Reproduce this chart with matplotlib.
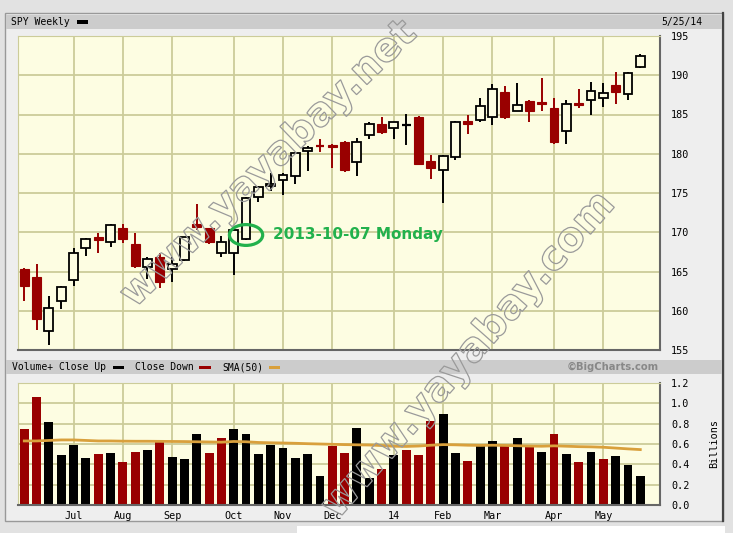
import matplotlib
matplotlib.use('Agg')
import matplotlib.pyplot as plt
from matplotlib.patches import Rectangle, Ellipse, PathPatch
from matplotlib.textpath import TextPath
from matplotlib.font_manager import FontProperties
from matplotlib.transforms import Affine2D
from matplotlib.lines import Line2D

# ---------------- data (weekly SPY, Jun 2013 - May 2014) ----------------
opens = [165.3, 164.3, 157.4, 161.2, 163.9, 168.0, 169.35, 168.7, 170.5, 168.5,
         165.6, 166.8, 165.3, 166.5, 171.1, 170.5, 167.4, 167.4, 169.1, 174.45,
         175.85, 176.6, 177.2, 180.3, 181.05, 181.1, 181.5, 178.9, 182.35, 183.8,
         183.3, 183.65, 184.7, 179.1, 177.9, 179.6, 184.2, 184.3, 184.7, 187.9,
         185.5, 186.7, 186.6, 185.8, 182.9, 186.5, 186.9, 187.1, 188.7, 187.6, 191.0]
highs = [165.5, 166.0, 161.9, 163.1, 168.0, 169.3, 169.95, 171.0, 171.0, 169.9,
         166.85, 167.3, 166.9, 169.4, 173.6, 170.6, 169.5, 170.4, 174.45, 175.9,
         177.5, 177.6, 180.1, 181.0, 181.7, 181.2, 181.6, 182.0, 184.1, 184.7,
         184.1, 185.0, 184.8, 179.8, 179.8, 184.2, 185.0, 187.1, 188.9, 188.6,
         189.0, 186.8, 189.6, 187.1, 186.8, 188.3, 189.1, 189.0, 190.4, 190.4, 192.7]
lows = [161.3, 157.5, 155.7, 160.2, 163.1, 167.0, 167.4, 168.1, 168.6, 165.5,
        164.1, 162.9, 163.7, 166.4, 170.3, 168.5, 166.8, 164.5, 169.0, 173.9,
        175.2, 174.7, 176.1, 177.85, 180.3, 178.2, 177.7, 177.2, 181.9, 182.5,
        181.9, 181.3, 178.6, 176.8, 173.7, 179.2, 182.5, 184.0, 183.7, 184.4,
        185.4, 184.0, 185.4, 181.2, 181.2, 185.8, 184.9, 185.9, 186.4, 186.9, 190.9]
closes = [163.1, 159.0, 160.4, 163.0, 167.4, 169.1, 169.05, 170.9, 169.2, 165.7,
          166.55, 163.6, 166.0, 169.35, 170.7, 168.8, 168.8, 170.25, 174.3, 175.8,
          176.2, 177.25, 180.05, 180.7, 180.95, 180.8, 177.9, 181.5, 183.75, 182.8,
          184.1, 183.75, 178.7, 178.15, 179.7, 184.0, 183.8, 186.1, 188.2, 184.65,
          186.2, 185.4, 186.3, 181.45, 186.3, 186.2, 188.0, 187.8, 187.9, 190.25, 192.5]

volumes = [0.75, 1.06, 0.82, 0.49, 0.59, 0.46, 0.50, 0.51, 0.42, 0.52,
           0.54, 0.62, 0.47, 0.45, 0.70, 0.51, 0.66, 0.75, 0.70, 0.50,
           0.59, 0.56, 0.46, 0.50, 0.29, 0.58, 0.51, 0.76, 0.27, 0.35,
           0.49, 0.54, 0.49, 0.83, 0.90, 0.51, 0.43, 0.59, 0.63, 0.58,
           0.66, 0.58, 0.52, 0.70, 0.50, 0.42, 0.52, 0.45, 0.48, 0.39, 0.29]
vol_down_weeks = [0, 1, 6, 8, 9, 11, 15, 16, 25, 26, 29, 31, 32, 33, 36, 39, 41, 43, 45, 47]

sma50 = [0.63, 0.63, 0.635, 0.64, 0.64, 0.635, 0.63, 0.63, 0.628, 0.627,
         0.627, 0.626, 0.625, 0.624, 0.622, 0.62, 0.618, 0.625, 0.622, 0.615,
         0.612, 0.61, 0.607, 0.603, 0.60, 0.597, 0.594, 0.592, 0.59, 0.585,
         0.578, 0.576, 0.58, 0.588, 0.594, 0.592, 0.588, 0.586, 0.588, 0.586,
         0.583, 0.58, 0.578, 0.582, 0.578, 0.574, 0.572, 0.568, 0.56, 0.552, 0.545]

month_weeks = [4, 8, 12, 17, 21, 25, 30, 34, 38, 43, 47]
month_labels = ['Jul', 'Aug', 'Sep', 'Oct', 'Nov', 'Dec', '14', 'Feb', 'Mar', 'Apr', 'May']
price_ticks = [155, 160, 165, 170, 175, 180, 185, 190, 195]
vol_ticks = [0.0, 0.2, 0.4, 0.6, 0.8, 1.0, 1.2]

# ---------------- style ----------------
W, H = 733, 533
RED = '#990000'
BLK = '#000000'
BG = '#fdfde2'
GRID = '#cccc99'
SMA_C = '#d9a03c'
GREEN = '#22b14c'
MONO = 'DejaVu Sans Mono'

fig = plt.figure(figsize=(W / 100, H / 100), dpi=100)
fig.patch.set_facecolor('#e2e2e2')


def fr(x, y):
    return x / W, 1 - y / H


def frect(x0, y0, x1, y1, **kw):
    r = Rectangle((x0 / W, 1 - y1 / H), (x1 - x0) / W, (y1 - y0) / H,
                  transform=fig.transFigure, **kw)
    fig.add_artist(r)
    return r


# frame
frect(5, 13, 723, 521, facecolor='#eeeeee', edgecolor='#999999', lw=1.0, zorder=-10)
fig.add_artist(Line2D([723 / W, 723 / W], [1 - 13 / H, 1 - 521 / H], color='#444444', lw=1.6,
                      transform=fig.transFigure, zorder=-9))
frect(6, 15, 722, 29, facecolor='#cccccc', edgecolor='none', zorder=-8)
frect(6, 360, 722, 374, facecolor='#cccccc', edgecolor='none', zorder=-8)
frect(297, 526, 725, 533, facecolor='white', edgecolor='none', zorder=-8)

# header texts
fig.text(*fr(11, 22), 'SPY Weekly', family=MONO, fontsize=7, va='center', ha='left')
frect(77, 20.5, 88, 23.5, facecolor=BLK, edgecolor='none', zorder=-7)
fig.text(*fr(702, 22), '5/25/14', family=MONO, fontsize=7, va='center', ha='right')

fig.text(*fr(12, 367), 'Volume+ Close Up', family=MONO, fontsize=7, va='center', ha='left')
frect(113, 365.5, 124, 368.5, facecolor=BLK, edgecolor='none', zorder=-7)
fig.text(*fr(135, 367), 'Close Down', family=MONO, fontsize=7, va='center', ha='left')
frect(199, 365.5, 211, 368.5, facecolor=RED, edgecolor='none', zorder=-7)
fig.text(*fr(222, 367), 'SMA(50)', family=MONO, fontsize=7, va='center', ha='left')
frect(269, 365.5, 280, 368.5, facecolor=SMA_C, edgecolor='none', zorder=-7)
fig.text(*fr(659, 367), '\u00a9BigCharts.com', family='DejaVu Sans', fontsize=7.2,
         fontweight='bold', color='#888888', va='center', ha='right')

# ---------------- axes ----------------
x_left, x_right = 18, 660
ax = fig.add_axes([x_left / W, 1 - 350 / H, (x_right - x_left) / W, (350 - 36) / H])
axv = fig.add_axes([x_left / W, 1 - 505 / H, (x_right - x_left) / W, (505 - 383) / H])

n = len(opens)
x0_lim, x1_lim = -0.51, 51.6
for a in (ax, axv):
    a.set_facecolor(BG)
    a.set_xlim(x0_lim, x1_lim)
    for wk in month_weeks:
        a.axvline(wk, color=GRID, lw=1.3, zorder=0)
    a.spines['top'].set_color(GRID)
    a.spines['left'].set_color(GRID)
    a.spines['bottom'].set_color('#666666')
    a.spines['right'].set_color('#666666')
    a.spines['bottom'].set_linewidth(1.5)
    a.spines['right'].set_linewidth(1.5)
    a.tick_params(axis='both', length=0)
    a.yaxis.tick_right()

# price
ax.set_ylim(155, 195)
ax.set_yticks(price_ticks)
ax.set_yticklabels([str(t) for t in price_ticks], family=MONO, fontsize=7.3)
ax.tick_params(axis='y', pad=8)
ax.set_xticks([])
for t in price_ticks:
    ax.axhline(t, color=GRID, lw=1.3, zorder=0)

bw = 0.72
for i in range(n):
    o, h, l, c = opens[i], highs[i], lows[i], closes[i]
    down = c < o
    col = RED if down else BLK
    top, bot = max(o, c), min(o, c)
    if top - bot < 0.15:
        # doji: horizontal bar
        ax.plot([i - bw / 2, i + bw / 2], [(o + c) / 2] * 2, color=col, lw=1.6, zorder=3,
                solid_capstyle='butt')
        ax.plot([i, i], [l, h], color=col, lw=1.4, zorder=3)
        continue
    ax.plot([i, i], [top, h], color=col, lw=1.4, zorder=2, solid_capstyle='butt')
    ax.plot([i, i], [l, bot], color=col, lw=1.4, zorder=2, solid_capstyle='butt')
    if down:
        ax.add_patch(Rectangle((i - bw / 2, bot), bw, top - bot, facecolor=RED,
                               edgecolor=RED, lw=0.8, zorder=3))
    else:
        ax.add_patch(Rectangle((i - bw / 2, bot), bw, top - bot, facecolor=BG,
                               edgecolor=BLK, lw=1.3, zorder=3))

# annotation
ax.add_patch(Ellipse((18.0, 169.65), 2.7, 2.65, facecolor='none', edgecolor=GREEN,
                     lw=2.3, zorder=5))
ax.text(20.2, 169.65, '2013-10-07 Monday', color=GREEN, fontsize=11, fontweight='bold',
        family='DejaVu Sans', va='center', ha='left', zorder=5)

# volume
axv.set_ylim(0, 1.2)
axv.set_yticks(vol_ticks)
axv.set_yticklabels(['%.1f' % t for t in vol_ticks], family=MONO, fontsize=7.3)
axv.tick_params(axis='y', pad=8)
for t in vol_ticks:
    axv.axhline(t, color=GRID, lw=1.3, zorder=0)
vcols = [RED if i in vol_down_weeks else BLK for i in range(n)]
axv.bar(range(n), volumes, width=0.72, color=vcols, zorder=2)
axv.plot(range(n), sma50, color=SMA_C, lw=2.0, zorder=3)
axv.set_xticks(month_weeks)
axv.set_xticklabels(month_labels, family=MONO, fontsize=7.3)
axv.tick_params(axis='x', pad=4)
fig.text(*fr(714, 444), 'Billions', family=MONO, fontsize=7.3, rotation=90,
         va='center', ha='center')

# watermarks (outlined text)
def watermark(txt, x0, y0, x1, y1):
    prop = FontProperties(family='DejaVu Sans', weight='bold')
    tp = TextPath((0, 0), txt, size=1, prop=prop)
    ext = tp.get_extents()
    import math
    L = math.hypot(x1 - x0, y1 - y0)
    ang = math.degrees(math.atan2(y0 - y1, x1 - x0))
    s = L / ext.width
    cx, cy = (x0 + x1) / 2, H - (y0 + y1) / 2
    tr = (Affine2D().translate(-(ext.x0 + ext.width / 2), -(ext.y0 + ext.height / 2))
          .scale(s).rotate_deg(ang).translate(cx, cy))
    fig.add_artist(PathPatch(tr.transform_path(tp), facecolor='none', edgecolor='#9a9a9a',
                             lw=0.9, transform=None, zorder=6))

watermark('www.yayabay.net', 128, 300, 410, 28)
watermark('www.yayabay.com', 330, 512, 606, 200)

fig.savefig('out.png', dpi=100, facecolor=fig.get_facecolor())
